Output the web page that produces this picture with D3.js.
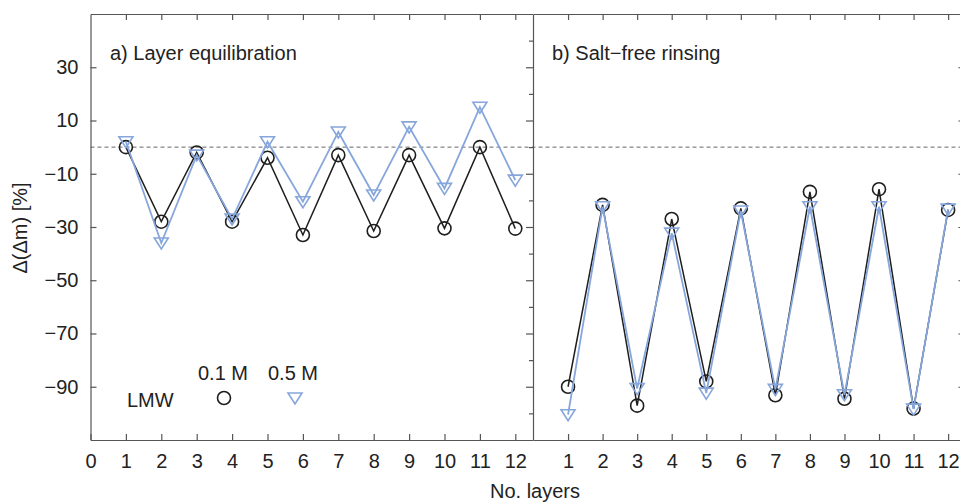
<!DOCTYPE html>
<html>
<head>
<meta charset="utf-8">
<script src="https://cdn.jsdelivr.net/npm/d3@7"></script>
<style>
  body { margin: 0; background: #fff; }
  svg { font-family: "Liberation Sans", Arial, sans-serif; }
  .axis path, .axis line { stroke: #555; stroke-width: 1.2; }
  .axis text { font-size: 20px; fill: #222; }
</style>
</head>
<body>
<div class="chart"></div>
<script>
const WIDTH = 960;
const HEIGHT = 502;
const FS = 20;

// data
var layers = [1, 2, 3, 4, 5, 6, 7, 8, 9, 10, 11, 12];
var equil01 = [0, -28, -2, -28, -4, -33, -3, -31.5, -3, -30.5, 0, -30.6];
var equil05 = [2, -36, -3, -27, 2, -20.5, 5.7, -18, 7.6, -15.5, 15, -12.4];
var rinse01 = [-90, -21.7, -97.1, -27, -88, -23, -93.2, -16.8, -94.5, -15.8, -98.2, -23.6];
var rinse05 = [-100.5, -22.4, -90.7, -32.3, -92.4, -24, -91, -22.4, -93, -22.4, -98.4, -23.3];

var yTicks = [-90, -70, -50, -30, -10, 10, 30];
var yMinor = [-100, -80, -60, -40, -20, 0, 20, 40];
var xTicksA = [0, 1, 2, 3, 4, 5, 6, 7, 8, 9, 10, 11, 12];
var xTicksB = [1, 2, 3, 4, 5, 6, 7, 8, 9, 10, 11, 12];

const BLACK = "#1e1e1e";
const BLUE = "#86a6dc";

var translate = function (x, y) {
    return "translate(" + x + "," + y + ")";
};

var _svg = d3.select('.chart').append('svg')
    .attr('width', WIDTH)
    .attr('height', HEIGHT);

var _yScale = d3.scaleLinear().domain([-110, 50]).range([440, 14]);
var _xA = d3.scaleLinear().domain([0, 12.5]).range([90.5, 533]);
var _xB = d3.scaleLinear().domain([0, 12.5]).range([533.5, 965.4]);

// zero line across both panels
_svg.append('line')
    .attr('x1', _xA(0)).attr('x2', _xB(12.5))
    .attr('y1', _yScale(0)).attr('y2', _yScale(0))
    .attr('stroke', '#666').attr('stroke-width', 1)
    .attr('stroke-dasharray', '4,3');

var drawFrame = function (xs, ticks, showLeft) {
    _svg.append('g').attr('class', 'axis')
        .attr('transform', translate(0, 440))
        .call(d3.axisBottom(xs).tickValues(ticks).tickSizeInner(-6).tickSizeOuter(0).tickPadding(14).tickFormat(d3.format('d')));
    _svg.append('g').attr('class', 'axis')
        .attr('transform', translate(0, 14))
        .call(d3.axisTop(xs).tickValues(ticks.filter(function (d) { return d > 0; })).tickSizeInner(-6).tickSizeOuter(0).tickFormat(''));

    if (showLeft) {
        _svg.append('g').attr('class', 'axis')
            .attr('transform', translate(xs.range()[0], 0))
            .call(d3.axisLeft(_yScale).tickValues(yTicks).tickSizeInner(-6).tickSizeOuter(0).tickPadding(12));
    }
    var xr = xs.range()[1];
    _svg.append('g').attr('class', 'axis')
        .attr('transform', translate(xr, 0))
        .call(d3.axisRight(_yScale).tickValues(yTicks).tickSizeInner(-7).tickSizeOuter(0).tickFormat(''));
    _svg.append('g').attr('class', 'axis')
        .attr('transform', translate(xr, 0))
        .call(d3.axisRight(_yScale).tickValues(yMinor).tickSizeInner(-4).tickSizeOuter(0).tickFormat(''))
        .select('.domain').remove();
};

drawFrame(_xA, xTicksA, true);
drawFrame(_xB, xTicksB, false);

var triPath = "M-7,-5L7,-5L0,6Z";

var drawSeries = function (xs, values, color, marker) {
    var pts = layers.map(function (d, i) { return [xs(d), _yScale(values[i])]; });
    var line = d3.line();
    _svg.append('path')
        .attr('d', line(pts))
        .attr('fill', 'none')
        .attr('stroke', color)
        .attr('stroke-width', marker === 'circle' ? 1.5 : 1.8);

    var g = _svg.append('g');
    if (marker === 'circle') {
        g.selectAll('circle').data(pts).enter().append('circle')
            .attr('cx', function (p) { return p[0]; })
            .attr('cy', function (p) { return p[1]; })
            .attr('r', 6.5)
            .attr('fill', 'none')
            .attr('stroke', color)
            .attr('stroke-width', 1.6);
    } else {
        g.selectAll('path').data(pts).enter().append('path')
            .attr('d', triPath)
            .attr('transform', function (p) { return translate(p[0], p[1]); })
            .attr('fill', 'none')
            .attr('stroke', color)
            .attr('stroke-width', 1.6);
    }
};

drawSeries(_xA, equil01, BLACK, 'circle');
drawSeries(_xA, equil05, BLUE, 'triangle');
drawSeries(_xB, rinse01, BLACK, 'circle');
drawSeries(_xB, rinse05, BLUE, 'triangle');

// panel titles
_svg.append('text').attr('x', 110).attr('y', 60)
    .attr('font-size', FS).attr('fill', '#222').text('a) Layer equilibration');
_svg.append('text').attr('x', 552).attr('y', 60)
    .attr('font-size', FS).attr('fill', '#222').text('b) Salt\u2212free rinsing');

// legend
_svg.append('text').attr('x', 223).attr('y', 380).attr('text-anchor', 'middle')
    .attr('font-size', FS).attr('fill', '#222').text('0.1 M');
_svg.append('text').attr('x', 293).attr('y', 380).attr('text-anchor', 'middle')
    .attr('font-size', FS).attr('fill', '#222').text('0.5 M');
_svg.append('text').attr('x', 127).attr('y', 407)
    .attr('font-size', FS).attr('fill', '#222').text('LMW');
_svg.append('circle').attr('cx', 224).attr('cy', 398).attr('r', 6.5)
    .attr('fill', 'none').attr('stroke', BLACK).attr('stroke-width', 1.6);
_svg.append('path').attr('d', triPath).attr('transform', translate(295, 398))
    .attr('fill', 'none').attr('stroke', BLUE).attr('stroke-width', 1.6);

// axis titles
_svg.append('text').attr('x', 535).attr('y', 498).attr('text-anchor', 'middle')
    .attr('font-size', FS).attr('fill', '#222').text('No. layers');
_svg.append('text')
    .attr('transform', translate(27, 228) + ' rotate(-90)')
    .attr('text-anchor', 'middle')
    .attr('font-size', FS).attr('fill', '#222').text('\u0394(\u0394m) [%]');
</script>
</body>
</html>
